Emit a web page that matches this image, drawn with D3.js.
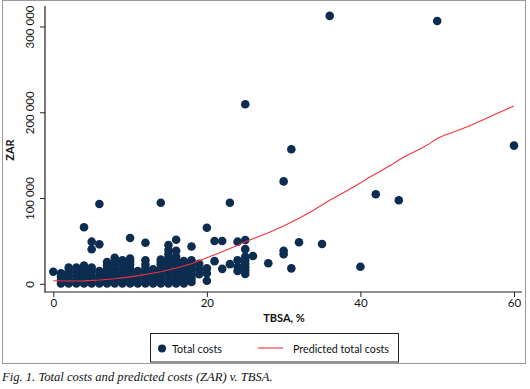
<!DOCTYPE html>
<html><head><meta charset="utf-8">
<script src="https://cdn.jsdelivr.net/npm/d3@7"></script>
<style>body{margin:0;background:#fff}svg{display:block}</style>
</head><body>
<svg id="c" width="530" height="389"></svg>
<script>
// Observed total costs (TBSA %, cost in ZAR thousands), one list per TBSA value
const costColumns = [
  [0,  [14.7]],
  [1,  [1, 5, 9, 12.8]],
  [2,  [1, 5.5, 10, 14.5, 19.4]],
  [3,  [1, 5.5, 10, 14.5, 19.4]],
  [4,  [1, 5.5, 10, 14.5, 18, 22, 66.5]],
  [5,  [1, 5.5, 10, 14.5, 19.4, 40.8, 49.7]],
  [6,  [1, 5.5, 10, 15.5, 46.6, 93.6]],
  [7,  [1, 5, 9.5, 14, 18, 22, 26]],
  [8,  [1, 5, 9.5, 14, 18.5, 23, 27, 31]],
  [9,  [1, 5, 9.5, 14, 18.5, 23, 28]],
  [10, [1, 5, 9.5, 14, 18.5, 23, 26.5, 30, 54]],
  [11, [1, 5.5, 10, 15.5]],
  [12, [1, 5, 9.5, 14, 18.5, 23, 28, 48.5]],
  [13, [1, 5.5, 10, 14, 17.5]],
  [14, [1, 5, 9.5, 14, 18.5, 23, 26, 29, 95]],
  [15, [1, 5, 9.5, 14, 18.5, 23, 27, 31, 35, 40, 45.8]],
  [16, [1, 5, 9.5, 14, 18.5, 23, 27.5, 32, 39, 52]],
  [17, [1, 5, 9.5, 14, 18.5, 23, 27]],
  [18, [2.7, 7, 11.5, 16, 20, 24, 28, 44]],
  [19, [11.7, 17.5, 24]],
  [20, [4.2, 12.8, 18.6, 66]],
  [21, [27, 50.5]],
  [22, [18, 50.5]],
  [23, [23.5, 95]],
  [24, [15.5, 20.5, 28, 49.7]],
  [25, [12, 16, 20, 24, 28, 32, 41, 51.6, 210]],
  [26, [33]],
  [28, [24.5]],
  [30, [35, 39, 120]],
  [31, [18.6, 157.5]],
  [32, [49]],
  [35, [47]],
  [36, [313]],
  [40, [20.5]],
  [42, [105]],
  [45, [98]],
  [50, [307]],
  [60, [161.7]]
];
// Predicted total costs (ZAR thousands)
const predTBSA = [0, 2, 4, 6, 8, 10, 12, 14, 16, 18, 20, 22, 24, 25, 26, 28, 30, 32, 34, 36, 38, 40, 41, 42, 44, 45, 46, 48, 49, 50, 51, 52, 54, 56, 58, 60];
const predCost = [4.2, 3.8, 4, 5, 6.5, 8.7, 11.5, 14.7, 19, 24, 31, 38, 45.5, 49.7, 53, 60, 68, 77, 87, 98, 108, 118, 124, 129, 139, 145, 150, 159, 164, 170, 174, 177, 184, 192, 200, 208];
const xTicks = [0, 20, 40, 60];
const yTicks = [0, 100000, 200000, 300000];
const yTickLabels = ["0", "100 000", "200 000", "300 000"];
const legendLabels = ["Total costs", "Predicted total costs"];

const svg = d3.select("#c");
const navy = "#0c2c50", red = "#f2333a";
const x = d3.scaleLinear().domain([0, 60]).range([53.3, 514]);
const y = d3.scaleLinear().domain([0, 300000]).range([284.3, 27]);

// outer frame
svg.append("rect").attr("x", 2.5).attr("y", 0.5).attr("width", 523).attr("height", 363)
  .attr("fill", "none").attr("stroke", "#9a9a9a").attr("stroke-width", 1);

const font = "Lato, 'Liberation Sans', sans-serif";

// axes
const ya = svg.append("g").attr("transform", "translate(45,0)")
  .call(d3.axisLeft(y).tickValues(yTicks).tickSize(5).tickFormat((d, i) => yTickLabels[i]));
ya.select(".domain").remove();
ya.selectAll("line").attr("stroke", "#222");
ya.selectAll("text").attr("font-family", font).attr("font-size", 11.5).attr("fill", "#111")
  .attr("x", 0).attr("dy", 0).attr("text-anchor", "middle")
  .attr("transform", d => `translate(-11,${y(d)}) rotate(-90)`).attr("y", 0);
ya.selectAll(".tick").attr("transform", null);
ya.selectAll(".tick line").attr("transform", d => `translate(0,${y(d)})`);
svg.append("line").attr("x1", 45).attr("x2", 45).attr("y1", 6).attr("y2", 292.5).attr("stroke", "#222").attr("stroke-width", 1.2);

const xa = svg.append("g").attr("transform", "translate(0,292)")
  .call(d3.axisBottom(x).tickValues(xTicks).tickSize(5).tickFormat(d3.format("d")));
xa.select(".domain").remove();
xa.selectAll("line").attr("stroke", "#222");
xa.selectAll("text").attr("font-family", font).attr("font-size", 11.5).attr("fill", "#111").attr("y", 7);
svg.append("line").attr("x1", 44.5).attr("x2", 522).attr("y1", 292).attr("y2", 292).attr("stroke", "#222").attr("stroke-width", 1.2);

// titles
svg.append("text").attr("x", 284).attr("y", 322).attr("text-anchor", "middle")
  .attr("font-family", font).attr("font-size", 11).attr("font-weight", "bold").attr("fill", "#111").text("TBSA, %");
svg.append("text").attr("transform", "translate(14,150) rotate(-90)").attr("text-anchor", "middle")
  .attr("font-family", font).attr("font-size", 11).attr("font-weight", "bold").attr("fill", "#111").text("ZAR");

// points
const pts = [];
costColumns.forEach(([t, vals]) => vals.forEach(v => pts.push({t, v: v * 1000})));
svg.append("g").selectAll("circle").data(pts).join("circle")
  .attr("cx", d => x(d.t)).attr("cy", d => y(d.v)).attr("r", 4.3).attr("fill", navy);

// predicted line
const line = d3.line().x((d, i) => x(predTBSA[i])).y(d => y(d * 1000));
svg.append("path").datum(predCost).attr("d", line).attr("fill", "none")
  .attr("stroke", red).attr("stroke-width", 1.1);

// legend
svg.append("rect").attr("x", 150.5).attr("y", 333.5).attr("width", 248).attr("height", 28.5)
  .attr("fill", "#fff").attr("stroke", "#222").attr("stroke-width", 1);
svg.append("circle").attr("cx", 162).attr("cy", 348.5).attr("r", 4).attr("fill", navy);
svg.append("text").attr("x", 172).attr("y", 352.5).attr("font-family", font).attr("font-size", 11.5)
  .attr("fill", "#111").attr("textLength", 50).attr("lengthAdjust", "spacingAndGlyphs").text(legendLabels[0]);
svg.append("line").attr("x1", 258).attr("x2", 283).attr("y1", 348).attr("y2", 348).attr("stroke", red).attr("stroke-width", 1.1);
svg.append("text").attr("x", 293).attr("y", 353).attr("font-family", font).attr("font-size", 11.5)
  .attr("fill", "#111").attr("textLength", 96).attr("lengthAdjust", "spacingAndGlyphs").text(legendLabels[1]);

// caption
svg.append("text").attr("x", 2).attr("y", 381).attr("font-family", "'Liberation Serif', serif")
  .attr("font-style", "italic").attr("font-size", 12.6).attr("fill", "#111")
  .text("Fig. 1. Total costs and predicted costs (ZAR) v. TBSA.");
</script>
</body></html>
